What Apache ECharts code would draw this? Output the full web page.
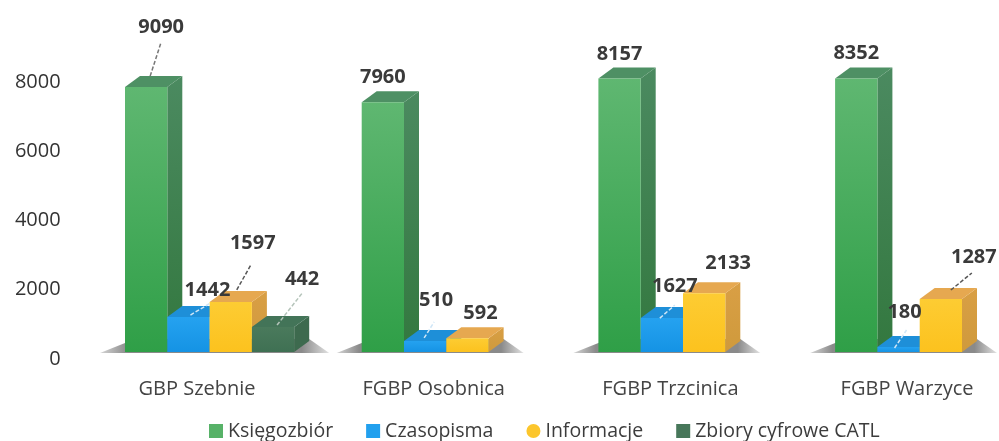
<!DOCTYPE html>
<html>
<head>
<meta charset="utf-8">
<style>
    html, body { margin: 0; padding: 0; background: #fff; }
    #chart { width: 999px; height: 441px; }
</style>
<script src="https://cdn.jsdelivr.net/npm/echarts@6/dist/echarts.min.js"></script>
</head>
<body>
<div id="chart"></div>
<script>
const categories = ['GBP Szebnie', 'FGBP Osobnica', 'FGBP Trzcinica', 'FGBP Warzyce'];
const seriesNames = ['Księgozbiór', 'Czasopisma', 'Informacje', 'Zbiory cyfrowe CATL'];

// heights as drawn against the axis, these do not follow the printed labels in the picture
const ksiegozbior = [7650, 7215, 7900, 7900];
const czasopisma = [1010, 320, 980, 145];
const informacje = [1445, 400, 1700, 1530];
const zbioryCyfrowe = [720, null, null, null];

// numbers printed above the bars
const ksiegozbiorLabels = ['9090', '7960', '8157', '8352'];
const czasopismaLabels = ['1442', '510', '1627', '180'];
const informacjeLabels = ['1597', '592', '2133', '1287'];
const zbioryCyfroweLabels = ['442', '', '', ''];

const yTicks = { min: 0, max: 8000, interval: 2000 };

// layout, px. frontLift raises the 3d front plane above the axis zero
const barW = 42.3, depthX = 15, depthY = 11, groupOffset = -72, frontLift = 7;

// label position relative to the top centre of the bar, one per category
const labelShift = [
    [[15, -60], [0, -25], [0, -24], [0, -25]],
    [[19, -27], [11, -41], [13, -32], [6, -35]],
    [[22, -59], [13, -25], [24, -30], [33, -42]],
    [[29, -48], null, null, null]
];
// x1, y1, x2, y2 relative to the same point
const leaders = [
    [[4, -11, 15, -45], null, null, null],
    [[2, -2, 22, -14], [-1, -3, 9, -19], [-2, 0, 13, -13], [-4, 1, 8, -17]],
    [[6, -12, 20, -37], null, null, [10, -9, 31, -26]],
    [[4, -2, 30, -35], null, null, null]
];
const leaderColors = ['#777', '#cfe6f7', '#555', '#b5c4ba'];

const palettes = [
    { legend: '#57b268', front: ['#5fb771', '#2f9f47'], side: ['#4b8a60', '#33783f'], top: '#4e9064' },
    { legend: '#22a0ee', front: ['#25a2f0', '#1593e4'], side: ['#1a7fc4', '#1a7fc4'], top: '#1e8fd8' },
    { legend: '#fcc62c', front: ['#fdcc33', '#fcc21e'], side: ['#d99f45', '#cf9a3c'], top: '#e6a850' },
    { legend: '#47775a', front: ['#4a7a5c', '#3f7053'], side: ['#3d6a4e', '#3d6a4e'], top: '#437458' }
];

const lastBarIndex = (i) => (zbioryCyfrowe[i] === null ? 2 : 3);

function vertical(c) {
    return new echarts.graphic.LinearGradient(0, 0, 0, 1, [
        { offset: 0, color: c[0] },
        { offset: 1, color: c[1] }
    ]);
}

function makeRender(s) {
    return function (params, api) {
        const i = api.value(0);
        const top = api.coord([i, api.value(1)]);
        const base = api.coord([i, 0]);
        top[1] -= frontLift;
        base[1] -= frontLift;
        const x = top[0] + groupOffset + s * barW;
        const p = palettes[s];
        const children = [];

        // floor shadow goes under the first series of each group
        if (s === 0) {
            const end = x + (lastBarIndex(i) + 1) * barW + depthX;
            children.push({
                type: 'polygon',
                shape: { points: [[x - 25, base[1] + 1], [x + depthX - 5, base[1] - depthY - 2], [end, base[1] - depthY - 2], [end + 20, base[1] + 1]] },
                style: {
                    fill: new echarts.graphic.LinearGradient(0, 0, 1, 0, [
                        { offset: 0, color: '#d5d5d5' },
                        { offset: 0.12, color: '#8a8a8a' },
                        { offset: 0.88, color: '#8a8a8a' },
                        { offset: 1, color: '#e2e2e2' }
                    ])
                }
            });
        }

        children.push({
            type: 'polygon',
            shape: { points: [[x + barW, top[1]], [x + barW + depthX, top[1] - depthY], [x + barW + depthX, base[1] - depthY], [x + barW, base[1]]] },
            style: { fill: vertical(p.side) }
        });
        children.push({
            type: 'polygon',
            shape: { points: [[x, top[1]], [x + depthX, top[1] - depthY], [x + barW + depthX, top[1] - depthY], [x + barW, top[1]]] },
            style: { fill: p.top }
        });
        children.push({
            type: 'rect',
            shape: { x: x, y: top[1], width: barW, height: base[1] - top[1] },
            style: { fill: vertical(p.front) }
        });

        const cx = x + barW / 2;
        const line = leaders[s][i];
        if (line) {
            children.push({
                type: 'line',
                z2: 50,
                shape: { x1: cx + line[0], y1: top[1] + line[1], x2: cx + line[2], y2: top[1] + line[3] },
                style: { stroke: leaderColors[s], lineWidth: 1.5, lineDash: [4, 2] }
            });
        }
        const shift = labelShift[s][i];
        children.push({
            type: 'text',
            z2: 100,
            style: {
                x: cx + shift[0],
                y: top[1] + shift[1],
                text: api.value(2),
                textAlign: 'center',
                textVerticalAlign: 'middle',
                fill: '#3a3a3a',
                font: 'bold 20px "Open Sans"'
            }
        });
        return { type: 'group', children: children };
    };
}

function makeData(values, labels) {
    const rows = [];
    values.forEach((v, i) => {
        if (v !== null) rows.push([i, v, labels[i]]);
    });
    return rows;
}

const allValues = [ksiegozbior, czasopisma, informacje, zbioryCyfrowe];
const allLabels = [ksiegozbiorLabels, czasopismaLabels, informacjeLabels, zbioryCyfroweLabels];

const chart = echarts.init(document.getElementById('chart'), null, { renderer: 'canvas' });
chart.setOption({
    animation: false,
    backgroundColor: '#fff',
    textStyle: { fontFamily: '"Open Sans"' },
    grid: { left: 78.65, right: -26.45, top: 82, bottom: 82, outerBoundsMode: 'none' },
    legend: {
        left: 209,
        top: 421,
        padding: 0,
        itemWidth: 14,
        itemHeight: 14,
        itemGap: 33,
        textStyle: { fontSize: 19.5, color: '#3c3c3c' },
        data: [
            { name: seriesNames[0], icon: 'rect' },
            { name: seriesNames[1], icon: 'rect' },
            { name: seriesNames[2], icon: 'circle' },
            { name: seriesNames[3], icon: 'rect' }
        ]
    },
    xAxis: {
        type: 'category',
        data: categories,
        axisLine: { show: false },
        axisTick: { show: false },
        axisLabel: { margin: 20, fontSize: 20, color: '#444' }
    },
    yAxis: {
        type: 'value',
        min: yTicks.min,
        max: yTicks.max,
        interval: yTicks.interval,
        splitLine: { show: false },
        axisLine: { show: false },
        axisTick: { show: false },
        axisLabel: { margin: 18, fontSize: 20, color: '#333', formatter: (v) => String(v) }
    },
    series: seriesNames.map((name, s) => ({
        name: name,
        type: 'custom',
        coordinateSystem: 'cartesian2d',
        clip: false,
        itemStyle: { color: palettes[s].legend },
        encode: { x: 0, y: 1 },
        renderItem: makeRender(s),
        data: makeData(allValues[s], allLabels[s])
    }))
});
</script>
</body>
</html>
